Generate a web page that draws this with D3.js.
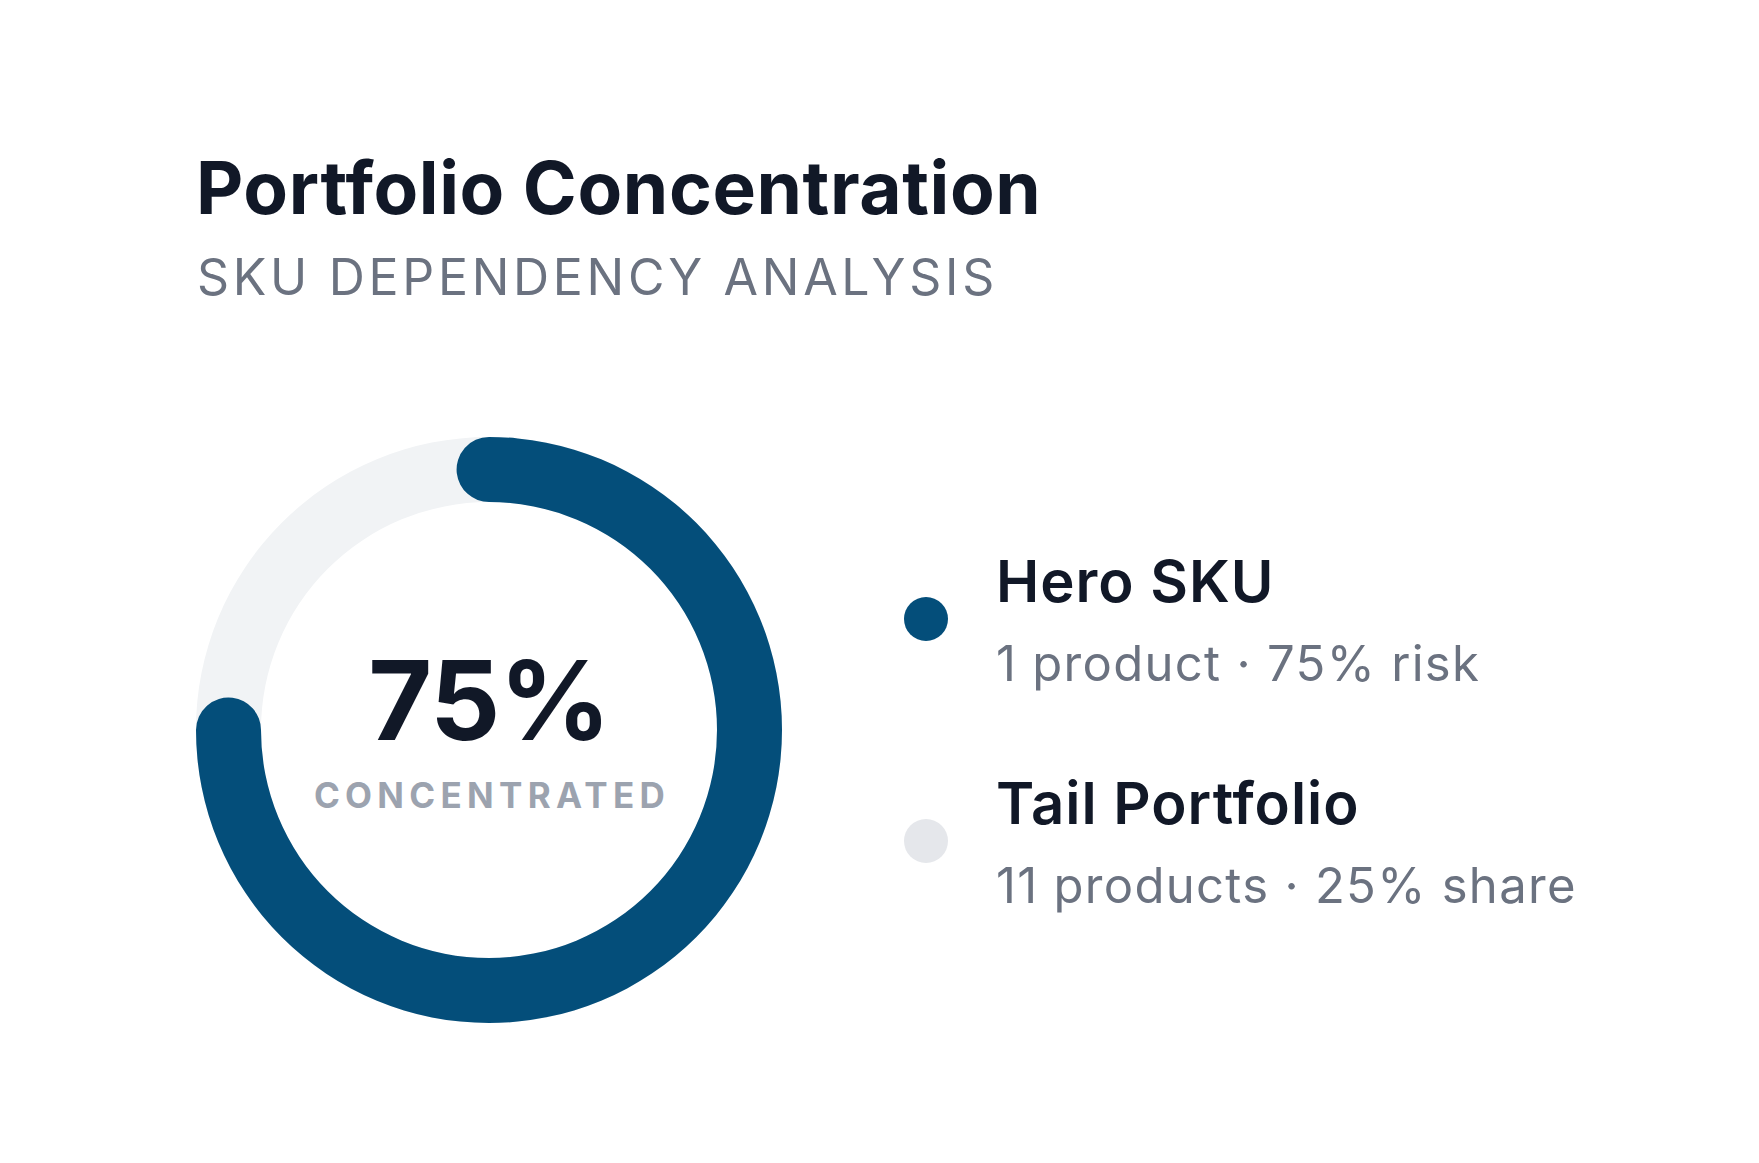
<!DOCTYPE html>
<html>
<head>
<meta charset="utf-8">
<script src="https://cdn.jsdelivr.net/npm/d3@7"></script>
<style>
  html, body { margin: 0; padding: 0; background: #ffffff; }
  svg { display: block; font-family: Inter, "Noto Sans", sans-serif; }
</style>
</head>
<body>
<div id="chart"></div>
<script>
// chart data
const segments = ["Hero SKU", "Tail Portfolio"];
const shares = [75, 25];
const segmentNotes = ["1 product · 75% risk", "11 products · 25% share"];
const segmentColors = ["#044e7a", "#e5e7eb"];

const title = "Portfolio Concentration",
      subtitle = "SKU DEPENDENCY ANALYSIS",
      centerValue = shares[0] + "%",
      centerLabel = "CONCENTRATED";

const width = 1759,
      height = 1163;

const svg = d3.select("#chart").append("svg")
  .attr("width", width)
  .attr("height", height);

svg.append("rect")
  .attr("width", width)
  .attr("height", height)
  .attr("fill", "#ffffff");

// header
svg.append("text")
  .attr("x", 196)
  .attr("y", 214)
  .attr("fill", "#111827")
  .style("font-size", "73px")
  .style("font-weight", 700)
  .style("letter-spacing", "0.6px")
  .text(title);

svg.append("text")
  .attr("x", 197)
  .attr("y", 295)
  .attr("fill", "#6b7280")
  .style("font-size", "50px")
  .style("font-weight", 400)
  .style("letter-spacing", "3.7px")
  .text(subtitle);

// donut
const cx = 489, cy = 730,
      outerR = 293, innerR = 228,
      thick = outerR - innerR,
      capAngle = (thick / 2) / ((outerR + innerR) / 2);

const g = svg.append("g").attr("transform", `translate(${cx},${cy})`);

const pie = d3.pie().sort(null).value((d) => d);
const arcs = pie(shares);

// track
g.append("path")
  .attr("d", d3.arc().innerRadius(innerR).outerRadius(outerR)({ startAngle: 0, endAngle: 2 * Math.PI }))
  .attr("fill", "#f1f3f5");

// hero arc with round caps
const heroArc = d3.arc()
  .innerRadius(innerR)
  .outerRadius(outerR)
  .cornerRadius(thick / 2);

g.append("path")
  .attr("d", heroArc({ startAngle: arcs[0].startAngle - capAngle, endAngle: arcs[0].endAngle + capAngle }))
  .attr("fill", segmentColors[0]);

g.append("text")
  .attr("x", 0)
  .attr("y", 10)
  .attr("text-anchor", "middle")
  .attr("fill", "#111827")
  .style("font-size", "110px")
  .style("font-weight", 700)
  .style("letter-spacing", "-0.01em")
  .text(centerValue);

g.append("text")
  .attr("x", 3)
  .attr("y", 78)
  .attr("text-anchor", "middle")
  .attr("fill", "#9ca3af")
  .style("font-size", "35px")
  .style("font-weight", 700)
  .style("letter-spacing", "5.3px")
  .text(centerLabel);

// legend
const legend = svg.append("g");
const yScale = d3.scalePoint().domain(segments).range([619, 841]);

const items = legend.selectAll("g").data(segments).enter().append("g")
  .attr("transform", (d) => `translate(0,${yScale(d)})`);

items.append("circle")
  .attr("cx", 926)
  .attr("cy", 0)
  .attr("r", 22)
  .attr("fill", (d, i) => segmentColors[i]);

items.append("text")
  .attr("x", 996)
  .attr("y", -17)
  .attr("fill", "#111827")
  .style("font-size", "58px")
  .style("font-weight", 600)
  .style("letter-spacing", "1px")
  .text((d) => d);

items.append("text")
  .attr("x", 996)
  .attr("y", 62)
  .attr("fill", "#6b7280")
  .style("font-size", "49px")
  .style("font-weight", 400)
  .style("letter-spacing", "1.3px")
  .text((d, i) => segmentNotes[i]);
</script>
</body>
</html>
